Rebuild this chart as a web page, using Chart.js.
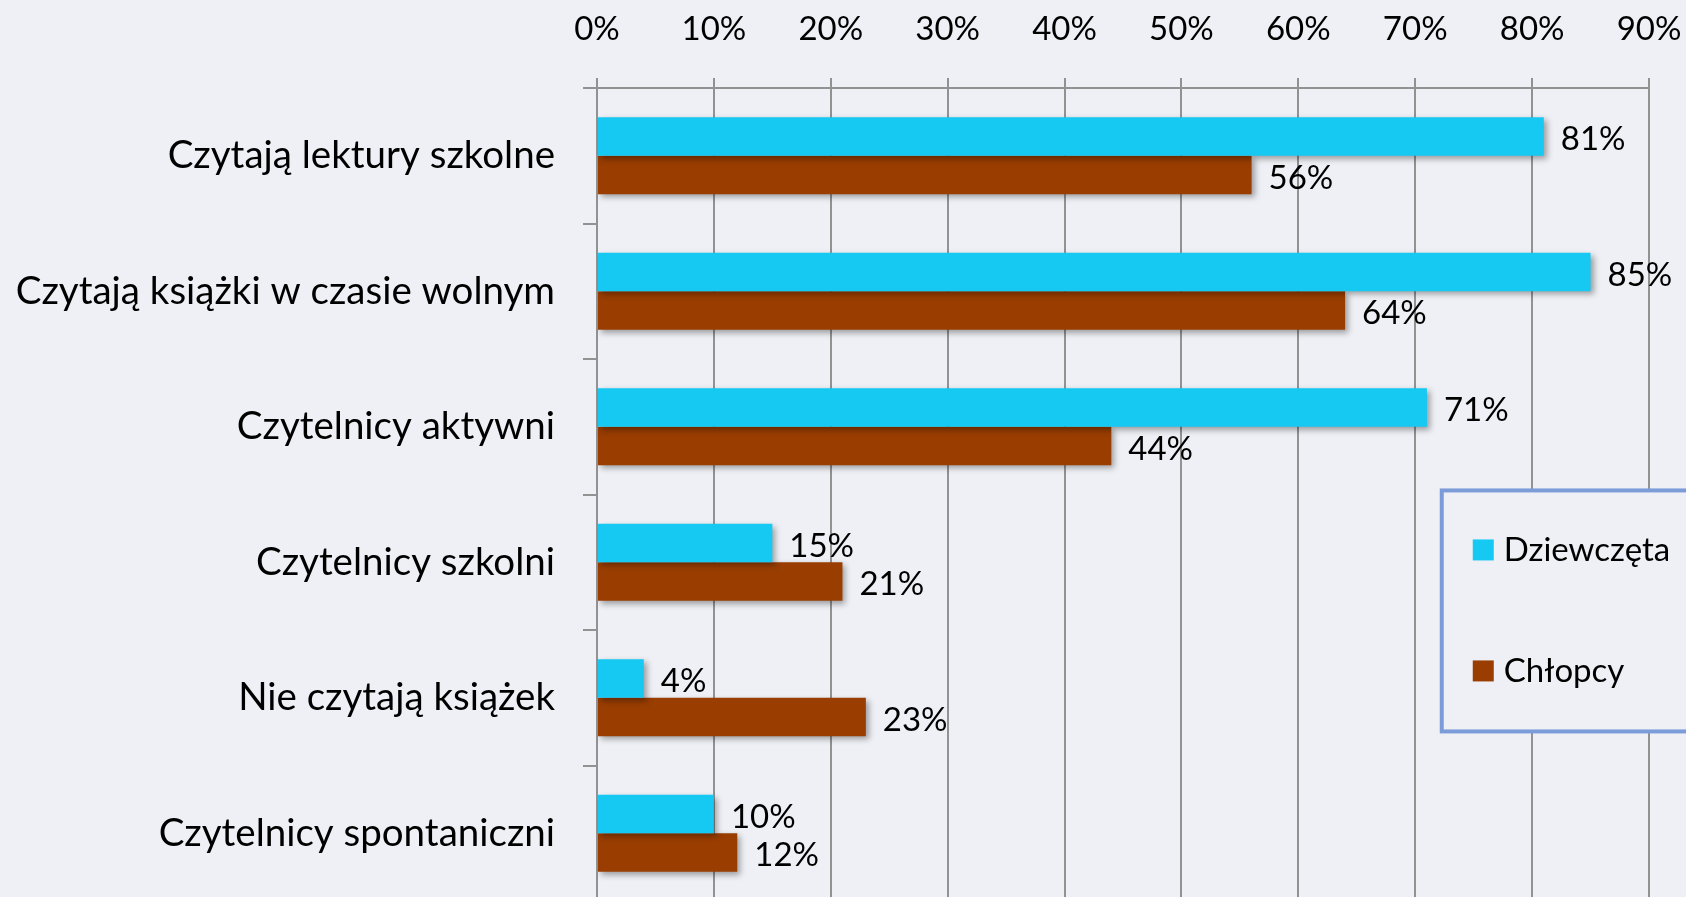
<!DOCTYPE html>
<html>
<head>
<meta charset="utf-8">
<script src="https://cdn.jsdelivr.net/npm/chart.js@4/dist/chart.umd.min.js"></script>
<style>
  html, body { margin: 0; padding: 0; background: #eff0f5; overflow: hidden; }
</style>
</head>
<body>
<canvas id="chart" width="1686" height="901"></canvas>
<script>
// dane z wykresu
const categories = [
  'Czytają lektury szkolne',
  'Czytają książki w czasie wolnym',
  'Czytelnicy aktywni',
  'Czytelnicy szkolni',
  'Nie czytają książek',
  'Czytelnicy spontaniczni'
];
const seriesNames = ['Dziewczęta', 'Chłopcy'];
const girls = [81, 85, 71, 15, 4, 10];
const boys = [56, 64, 44, 21, 23, 12];
const xTicks = [0, 10, 20, 30, 40, 50, 60, 70, 80, 90];

const BG = '#eff0f5';
const GRID = '#929292';
const FONT = 'Lato, "Open Sans", sans-serif';

const decor = {
  id: 'decor',
  beforeDraw(chart) {
    const ctx = chart.ctx;
    ctx.save();
    ctx.fillStyle = BG;
    ctx.fillRect(0, 0, chart.width, chart.height);
    ctx.restore();
  },
  beforeDatasetsDraw(chart) {
    const ctx = chart.ctx;
    ctx.save();
    ctx.shadowColor = 'rgba(0,0,0,0.35)';
    ctx.shadowBlur = 6;
    ctx.shadowOffsetX = 3;
    ctx.shadowOffsetY = 3;
  },
  afterDatasetsDraw(chart) {
    chart.ctx.restore();
  },
  afterDraw(chart) {
    const ctx = chart.ctx;
    const area = chart.chartArea;
    // etykiety wartości
    ctx.save();
    ctx.fillStyle = '#000';
    ctx.font = '33px ' + FONT;
    ctx.textAlign = 'left';
    ctx.textBaseline = 'middle';
    chart.data.datasets.forEach((ds, i) => {
      chart.getDatasetMeta(i).data.forEach((bar, j) => {
        ctx.fillText(ds.data[j] + '%', bar.x + 17, bar.y + 3);
      });
    });
    ctx.restore();

    // legenda w ramce
    const bx = area.left + (area.right - area.left) * 0.803;
    const by = area.top + (area.bottom - area.top) * 0.495;
    const bh = 241;
    ctx.save();
    ctx.fillStyle = BG;
    ctx.fillRect(bx, by, chart.width, bh);
    ctx.strokeStyle = '#7b9cd8';
    ctx.lineWidth = 4;
    ctx.strokeRect(bx, by, chart.width, bh);
    ctx.font = '33px ' + FONT;
    ctx.textBaseline = 'middle';
    chart.data.datasets.forEach((ds, i) => {
      const cy = by + 59 + i * 121;
      ctx.fillStyle = ds.backgroundColor;
      ctx.fillRect(bx + 31, cy - 10, 21, 21);
      ctx.fillStyle = '#000';
      ctx.fillText(ds.label, bx + 62, cy + 1);
    });
    ctx.restore();
  }
};

new Chart(document.getElementById('chart'), {
  type: 'bar',
  data: {
    labels: categories,
    datasets: [
      { label: seriesNames[0], data: girls, backgroundColor: '#15c9f2',
        categoryPercentage: 0.57, barPercentage: 1.0, borderWidth: 0 },
      { label: seriesNames[1], data: boys, backgroundColor: '#993d00',
        categoryPercentage: 0.57, barPercentage: 1.0, borderWidth: 0 }
    ]
  },
  options: {
    indexAxis: 'y',
    responsive: false,
    devicePixelRatio: 1,
    animation: false,
    layout: { padding: { left: 0, right: 37, top: 0, bottom: 0 } },
    plugins: {
      legend: { display: false },
      tooltip: { enabled: false }
    },
    scales: {
      x: {
        type: 'linear',
        position: 'top',
        min: xTicks[0],
        max: xTicks[xTicks.length - 1],
        afterBuildTicks: s => { s.ticks = xTicks.map(v => ({ value: v })); },
        afterFit: s => { s.height = 88; s.paddingLeft = 0; s.paddingRight = 0; },
        ticks: {
          callback: v => v + '%',
          color: '#000',
          font: { family: FONT, size: 33 },
          padding: 29
        },
        grid: { color: GRID, lineWidth: 2, tickLength: 10 },
        border: { display: true, color: GRID, width: 2 }
      },
      y: {
        afterFit: s => { s.width = 597; s.paddingTop = 0; s.paddingBottom = 0; },
        ticks: {
          color: '#000',
          font: { family: FONT, size: 38.5 },
          padding: 28
        },
        grid: { drawOnChartArea: false, color: GRID, lineWidth: 2, tickLength: 14 },
        border: { display: true, color: GRID, width: 2 }
      }
    }
  },
  plugins: [decor]
});
</script>
</body>
</html>
